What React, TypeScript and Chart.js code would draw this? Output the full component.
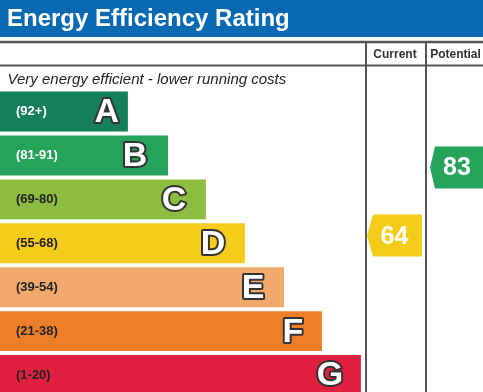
import React, { useEffect, useRef } from "react";
import { Chart, registerables } from "chart.js";

Chart.register(...registerables);

const titleText = "Energy Efficiency Rating";
const topNote = "Very energy efficient - lower running costs";
const columnLabels = ["Current", "Potential"];
const ratingValues = [64, 83];

const bandLetters = ["A", "B", "C", "D", "E", "F", "G"];
const bandRanges = ["(92+)", "(81-91)", "(69-80)", "(55-68)", "(39-54)", "(21-38)", "(1-20)"];
const bandMin = [92, 81, 69, 55, 39, 21, 1];
const bandMax = [100, 91, 80, 68, 54, 38, 20];
const bandLengths = [33.1, 43.5, 53.3, 63.4, 73.5, 83.3, 93.4];
const bandColors = ["#16805a", "#25a35a", "#8dbd40", "#f6cc1b", "#f2aa6c", "#ec7f28", "#e11f3f"];
const rangeTextColors = ["#ffffff", "#ffffff", "#222222", "#222222", "#222222", "#222222", "#222222"];

const FONT = '"Liberation Sans", Arial, Helvetica, sans-serif';
const LINE = "#555555";
// distance (px) from bar end to centre of the band letter
const LETTER_INSET = [21, 33, 32, 32, 31, 29, 31];

const epcPlugin = {
  id: "epc",
  beforeDraw(chart: any) {
    const ctx = chart.ctx as CanvasRenderingContext2D;
    const W = chart.width;
    const H = chart.height;
    ctx.save();
    ctx.fillStyle = "#ffffff";
    ctx.fillRect(0, 0, W, H);
    // title bar
    ctx.fillStyle = "#0a69b3";
    ctx.fillRect(0, 0, W, 37);
    ctx.fillStyle = "#ffffff";
    ctx.font = `bold 24px ${FONT}`;
    ctx.textBaseline = "alphabetic";
    ctx.textAlign = "left";
    ctx.fillText(titleText, 7, 25.5);
    // lines
    ctx.strokeStyle = LINE;
    ctx.lineWidth = 2.5;
    ctx.beginPath();
    ctx.moveTo(0, 42);
    ctx.lineTo(W, 42);
    ctx.stroke();
    ctx.lineWidth = 2;
    ctx.beginPath();
    ctx.moveTo(0, 65.5);
    ctx.lineTo(W, 65.5);
    ctx.moveTo(366, 43);
    ctx.lineTo(366, H);
    ctx.moveTo(426, 43);
    ctx.lineTo(426, H);
    ctx.stroke();
    // column headers
    ctx.fillStyle = "#333333";
    ctx.font = `bold 12px ${FONT}`;
    ctx.textAlign = "center";
    ctx.textBaseline = "middle";
    ctx.fillText(columnLabels[0], 395, 55);
    ctx.fillText(columnLabels[1], 455.5, 55);
    // note
    ctx.font = `italic 15px ${FONT}`;
    ctx.textAlign = "left";
    ctx.textBaseline = "alphabetic";
    ctx.fillStyle = "#222222";
    ctx.fillText(topNote, 7.5, 84);
    ctx.restore();
  },
  afterDatasetsDraw(chart: any) {
    const ctx = chart.ctx as CanvasRenderingContext2D;
    const meta = chart.getDatasetMeta(0);
    ctx.save();
    meta.data.forEach((bar: any, i: number) => {
      const { x, y } = bar.getProps(["x", "y"], true);
      ctx.textBaseline = "middle";
      ctx.textAlign = "left";
      ctx.font = `bold 13px ${FONT}`;
      ctx.fillStyle = rangeTextColors[i];
      ctx.fillText(bandRanges[i], 16, y);
      ctx.font = `bold 34px ${FONT}`;
      ctx.textAlign = "center";
      ctx.lineJoin = "round";
      ctx.lineWidth = 4;
      ctx.strokeStyle = "#333333";
      const lx = x - LETTER_INSET[i];
      ctx.strokeText(bandLetters[i], lx, y + 1);
      ctx.fillStyle = "#ffffff";
      ctx.fillText(bandLetters[i], lx, y + 1);
    });
    // rating arrows
    const cols = [
      { tip: 367, body: 373, right: 422 },
      { tip: 430, body: 435, right: 484 },
    ];
    ratingValues.forEach((score, c) => {
      let bi = bandMin.findIndex((m) => score >= m);
      if (bi < 0) bi = bandMin.length - 1;
      const bar = meta.data[bi];
      const { y, height } = bar.getProps(["y", "height"], true);
      const top = y - height / 2;
      const frac = (bandMax[bi] - score) / (bandMax[bi] - bandMin[bi]);
      const cy = top + frac * height;
      const h = 21;
      const col = cols[c];
      ctx.fillStyle = bandColors[bi];
      ctx.beginPath();
      ctx.moveTo(col.tip, cy);
      ctx.lineTo(col.body, cy - h);
      ctx.lineTo(col.right, cy - h);
      ctx.lineTo(col.right, cy + h);
      ctx.lineTo(col.body, cy + h);
      ctx.closePath();
      ctx.fill();
      ctx.fillStyle = "#ffffff";
      ctx.font = `bold 25px ${FONT}`;
      ctx.textAlign = "center";
      ctx.textBaseline = "middle";
      ctx.fillText(String(score), (col.tip + col.right) / 2, cy + 1);
    });
    ctx.restore();
  },
};

export default function App() {
  const ref = useRef<HTMLCanvasElement | null>(null);
  useEffect(() => {
    if (!ref.current) return;
    const chart = new Chart(ref.current, {
      type: "bar",
      data: {
        labels: bandLetters,
        datasets: [
          {
            data: bandLengths,
            backgroundColor: bandColors,
            borderWidth: 0,
            barPercentage: 0.91,
            categoryPercentage: 1,
          },
        ],
      },
      options: {
        indexAxis: "y",
        responsive: false,
        animation: false,
        devicePixelRatio: 1,
        layout: { padding: { top: 89.6, left: 0, right: 0, bottom: 0 } },
        scales: {
          x: { display: false, min: 0, max: 125 },
          y: { display: false },
        },
        plugins: {
          legend: { display: false },
          tooltip: { enabled: false },
          title: { display: false },
        },
      },
      plugins: [epcPlugin],
    } as any);
    return () => chart.destroy();
  }, []);
  return (
    <div
      style={{
        position: "fixed",
        left: 0,
        top: 0,
        width: 483,
        height: 392,
        overflow: "hidden",
        background: "#fff",
      }}
    >
      <canvas ref={ref} width={483} height={397} style={{ display: "block", width: 483, height: 397 }} />
    </div>
  );
}
